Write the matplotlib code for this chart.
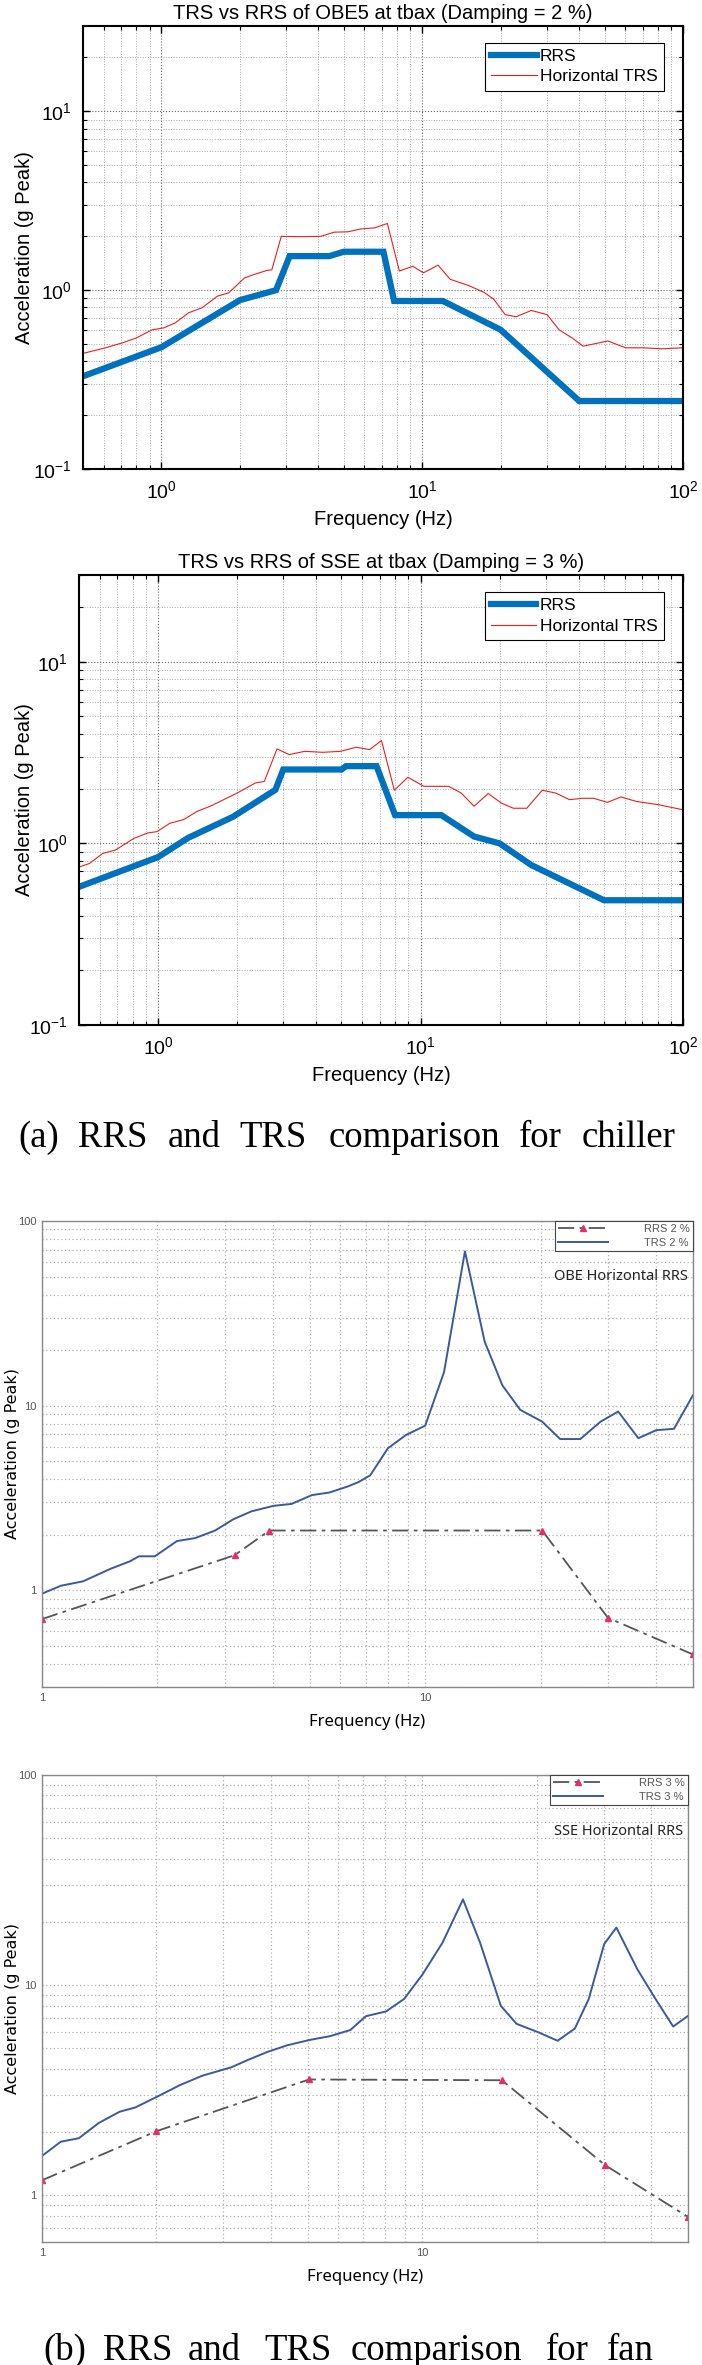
import numpy as np
import matplotlib
matplotlib.use("Agg")
import matplotlib.pyplot as plt
from matplotlib.ticker import LogLocator, FuncFormatter, NullFormatter

plt.rcParams['font.family'] = ['Liberation Sans', 'DejaVu Sans']

W, H = 702, 2365

# (a) chiller - OBE5, damping 2 %
obe5_rrs_f = [0.5, 1.0, 2.0, 2.75, 3.1, 4.4, 5.0, 7.1, 7.8, 12.0, 20.0, 40.0, 100.0]
obe5_rrs_a = [0.33, 0.48, 0.88, 1.0, 1.55, 1.55, 1.64, 1.64, 0.87, 0.87, 0.60, 0.24, 0.24]
obe5_trs_f = [0.5, 0.61, 0.71, 0.80, 0.92, 1.02, 1.13, 1.27, 1.43, 1.64, 1.81, 2.08, 2.25,
              2.54, 2.65, 2.88, 3.42, 4.08, 4.6, 5.18, 5.83, 6.57, 7.35, 8.17, 9.2, 10.1,
              11.5, 12.8, 15.1, 17.3, 18.8, 20.8, 22.9, 26.2, 30.1, 33.5, 37.6, 41.4, 51.5,
              60.2, 70.5, 82.7, 100.0]
obe5_trs_a = [0.443, 0.476, 0.508, 0.54, 0.60, 0.615, 0.657, 0.747, 0.797, 0.926, 0.966, 1.17,
              1.22, 1.29, 1.30, 2.0, 1.99, 2.0, 2.11, 2.12, 2.2, 2.23, 2.36, 1.28, 1.36, 1.25,
              1.38, 1.15, 1.06, 0.97, 0.89, 0.73, 0.71, 0.77, 0.73, 0.60, 0.54, 0.486, 0.52,
              0.476, 0.476, 0.47, 0.476]

# (a) chiller - SSE, damping 3 %
sse_rrs_f = [0.5, 1.0, 1.3, 1.93, 2.8, 3.0, 5.0, 5.2, 6.8, 8.0, 12.0, 16.0, 20.0, 26.4, 50.0, 100.0]
sse_rrs_a = [0.576, 0.84, 1.07, 1.40, 1.97, 2.55, 2.55, 2.66, 2.66, 1.43, 1.43, 1.09, 1.0, 0.76,
             0.486, 0.486]
sse_trs_f = [0.5, 0.548, 0.616, 0.69, 0.81, 0.913, 0.99, 1.11, 1.25, 1.41, 1.58, 1.78, 2.0,
             2.35, 2.54, 2.84, 3.16, 3.62, 4.24, 4.96, 5.69, 6.4, 7.1, 7.95, 8.95, 10.3, 12.8,
             14.3, 16.0, 18.1, 20.4, 22.6, 25.4, 29.1, 32.8, 36.9, 41.5, 45.7, 51.5, 58.0,
             66.6, 81.0, 100.0]
sse_trs_a = [0.74, 0.775, 0.88, 0.92, 1.066, 1.14, 1.16, 1.29, 1.35, 1.50, 1.6, 1.74, 1.89,
             2.15, 2.19, 3.31, 3.08, 3.21, 3.17, 3.21, 3.38, 3.28, 3.68, 1.96, 2.31, 2.06, 2.06,
             1.89, 1.6, 1.88, 1.66, 1.56, 1.56, 1.96, 1.89, 1.74, 1.77, 1.77, 1.68, 1.80,
             1.70, 1.63, 1.53]

# (b) fan - OBE, damping 2 %
fan_obe_rrs_f = [1.0, 3.18, 3.92, 20.2, 30.0, 50.0]
fan_obe_rrs_a = [0.70, 1.55, 2.11, 2.11, 0.71, 0.45]
fan_obe_trs_f = [1.0, 1.12, 1.28, 1.51, 1.70, 1.79, 1.97, 2.25, 2.51, 2.83, 3.16, 3.52, 4.02,
                 4.48, 5.06, 5.63, 6.27, 6.7, 7.19, 7.99, 8.9, 10.0, 11.2, 12.7, 14.3, 15.9,
                 17.7, 20.2, 22.5, 25.4, 28.7, 31.9, 36.0, 40.1, 44.6, 50.0]
fan_obe_trs_a = [0.96, 1.06, 1.12, 1.31, 1.44, 1.53, 1.53, 1.85, 1.92, 2.11, 2.43, 2.68, 2.87,
                 2.94, 3.28, 3.39, 3.65, 3.86, 4.20, 5.88, 6.93, 7.8, 15.2, 68.5, 22.2, 12.9,
                 9.5, 8.2, 6.6, 6.6, 8.2, 9.3, 6.67, 7.37, 7.5, 11.4]

# (b) fan - SSE, damping 3 %
fan_sse_rrs_f = [1.0, 2.0, 5.04, 16.2, 30.3, 50.0]
fan_sse_rrs_a = [1.18, 2.02, 3.56, 3.53, 1.39, 0.79]
fan_sse_trs_f = [1.0, 1.12, 1.25, 1.41, 1.60, 1.76, 2.01, 2.30, 2.64, 3.15, 3.46, 3.91, 4.42,
                 5.06, 5.72, 6.47, 7.11, 8.03, 8.96, 10.0, 11.3, 12.8, 14.2, 16.1, 17.7, 20.2,
                 22.7, 25.2, 27.4, 30.1, 32.4, 36.8, 41.1, 45.7, 50.0]
fan_sse_trs_a = [1.54, 1.80, 1.87, 2.21, 2.50, 2.62, 2.95, 3.34, 3.71, 4.07, 4.39, 4.81, 5.18,
                 5.49, 5.72, 6.12, 7.12, 7.5, 8.6, 11.2, 15.9, 25.6, 15.9, 7.97, 6.55, 5.97,
                 5.44, 6.22, 8.58, 15.7, 18.8, 11.9, 8.58, 6.36, 7.14]


def box(left, top, right, bottom):
    return [left / W, 1 - bottom / H, (right - left) / W, (bottom - top) / H]


fig = plt.figure(figsize=(W / 100, H / 100), dpi=100)


def matlab_panel(rect, title, rrs_f, rrs_a, trs_f, trs_a):
    ax = fig.add_axes(rect)
    ax.plot(rrs_f, rrs_a, color='#0072BD', lw=4.5, label='RRS', solid_joinstyle='miter')
    ax.plot(trs_f, trs_a, color='#E8201E', lw=0.8, label='Horizontal TRS')
    ax.set_xscale('log')
    ax.set_yscale('log')
    ax.set_xlim(0.5, 100)
    ax.set_ylim(0.1, 30)
    ax.xaxis.set_major_locator(LogLocator(base=10, numticks=10))
    ax.xaxis.set_minor_locator(LogLocator(base=10, subs=np.arange(2, 10), numticks=20))
    ax.yaxis.set_major_locator(LogLocator(base=10, numticks=10))
    ax.yaxis.set_minor_locator(LogLocator(base=10, subs=np.arange(2, 10), numticks=20))
    ax.tick_params(which='both', direction='in', top=True, right=True, labelsize=14)
    ax.tick_params(which='major', length=5, width=1, pad=8)
    ax.tick_params(which='minor', length=3, width=0.8)
    ax.grid(which='major', ls=':', color='#666666', lw=0.8)
    ax.grid(which='minor', ls=':', color='#aaaaaa', lw=0.7)
    for s in ax.spines.values():
        s.set_linewidth(1.5)
    ax.set_title(title, fontsize=14.5, pad=5)
    ax.set_xlabel('Frequency (Hz)', fontsize=14.5, labelpad=6)
    ax.set_ylabel('Acceleration (g Peak)', fontsize=14.5)
    # right edge of the rotated label sits ~34 px from the image's left edge
    ax.yaxis.set_label_coords((34 - rect[0] * W) / (rect[2] * W), 0.5)
    leg = ax.legend(loc='upper right', bbox_to_anchor=(0.968, 0.962), borderaxespad=0,
                    fontsize=12.5, fancybox=False, framealpha=1, edgecolor='black',
                    handlelength=2.6, handletextpad=0.2, borderpad=0.35, labelspacing=0.3)
    leg.get_frame().set_linewidth(0.8)
    return ax


def fan_panel(rect, rrs_f, rrs_a, trs_f, trs_a, ylim, damping, note):
    ax = fig.add_axes(rect)
    ax.plot(rrs_f, rrs_a, color='#555555', lw=1.3, ls=(0, (9, 3, 2, 3)),
            marker='^', ms=4, mfc='#e0306a', mec='#e0306a', label=f'RRS {damping} %')
    ax.plot(trs_f, trs_a, color='#3a5a9a', lw=1.4, label=f'TRS {damping} %')
    ax.set_xscale('log')
    ax.set_yscale('log')
    ax.set_xlim(1, 50)
    ax.set_ylim(*ylim)
    ax.xaxis.set_major_locator(LogLocator(base=10, numticks=10))
    ax.xaxis.set_minor_locator(LogLocator(base=10, subs=np.arange(2, 10), numticks=20))
    ax.yaxis.set_major_locator(LogLocator(base=10, numticks=10))
    ax.yaxis.set_minor_locator(LogLocator(base=10, subs=np.arange(2, 10), numticks=20))
    ax.xaxis.set_major_formatter(FuncFormatter(lambda v, p: f'{v:g}'))
    ax.yaxis.set_major_formatter(FuncFormatter(lambda v, p: f'{v:g}'))
    ax.xaxis.set_minor_formatter(NullFormatter())
    ax.yaxis.set_minor_formatter(NullFormatter())
    ax.tick_params(which='both', length=0, labelsize=8, labelcolor='#555555', pad=4)
    ax.grid(which='both', ls=(0, (1, 2)), color='#b0b0b0', lw=0.9)
    for s in ax.spines.values():
        s.set_color('#888888')
        s.set_linewidth(1.0)
    ax.set_xlabel('Frequency (Hz)', fontsize=12, family='Noto Sans', labelpad=8)
    ax.set_ylabel('Acceleration (g Peak)', fontsize=11.5, family='DejaVu Sans')
    ax.yaxis.set_label_coords((20 - rect[0] * W) / (rect[2] * W), 0.5)
    leg = ax.legend(loc='upper right', borderaxespad=0, fontsize=8, fancybox=False,
                    framealpha=1, edgecolor='#444444', numpoints=1, handlelength=4.5,
                    handletextpad=3.2, borderpad=0.3, labelspacing=0.3, labelcolor='#555555')
    leg.get_frame().set_linewidth(0.8)
    ax.text(0.992, 0.88, note, transform=ax.transAxes, ha='right', va='center',
            fontsize=10.5, family='Noto Sans', color='#222222')
    return ax


matlab_panel(box(83, 26, 683, 469), 'TRS vs RRS of OBE5 at tbax (Damping = 2 %)',
             obe5_rrs_f, obe5_rrs_a, obe5_trs_f, obe5_trs_a)
matlab_panel(box(79, 575, 683, 1025), 'TRS vs RRS of SSE at tbax (Damping = 3 %)',
             sse_rrs_f, sse_rrs_a, sse_trs_f, sse_trs_a)

fan_panel(box(42, 1221, 693, 1687), fan_obe_rrs_f, fan_obe_rrs_a, fan_obe_trs_f, fan_obe_trs_a,
          (0.3, 100), 2, 'OBE Horizontal RRS')
fan_panel(box(42, 1775, 688, 2242), fan_sse_rrs_f, fan_sse_rrs_a, fan_sse_trs_f, fan_sse_trs_a,
          (0.6, 100), 3, 'SSE Horizontal RRS')

# justified captions, one word at a time
cap_a = ['(a)', 'RRS', 'and', 'TRS', 'comparison', 'for', 'chiller']
cap_a_x = [18, 78, 168, 239, 329, 519, 582]
cap_b = ['(b)', 'RRS', 'and', 'TRS', 'comparison', 'for', 'fan']
cap_b_x = [43, 103, 188, 264, 351, 546, 607]
for word, x in zip(cap_a, cap_a_x):
    fig.text(x / W, 1 - 1147 / H, word, family='Liberation Serif', fontsize=26.5,
             ha='left', va='baseline')
for word, x in zip(cap_b, cap_b_x):
    fig.text(x / W, 1 - 2360 / H, word, family='Liberation Serif', fontsize=26.5,
             ha='left', va='baseline')

fig.savefig('out.png', dpi=100)
